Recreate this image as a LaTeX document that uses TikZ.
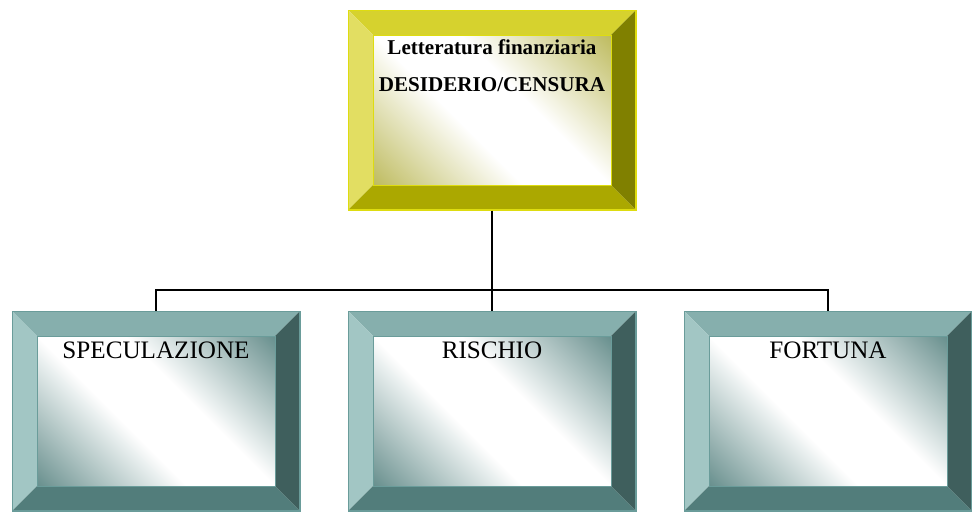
\documentclass[tikz,border=0pt]{standalone}
\usepackage{fontspec}
\setmainfont{Liberation Serif}
\usetikzlibrary{calc, positioning}
\definecolor{olvTop}{HTML}{D6D22E}
\definecolor{olvLeft}{HTML}{E2DE62}
\definecolor{olvRight}{HTML}{808000}
\definecolor{olvBottom}{HTML}{ABA800}
\definecolor{olvLine}{HTML}{DEDC10}
\definecolor{olvDark}{HTML}{B8B550}
\definecolor{teaTop}{HTML}{86AFAD}
\definecolor{teaLeft}{HTML}{A2C6C4}
\definecolor{teaRight}{HTML}{3F5F5D}
\definecolor{teaBottom}{HTML}{527D7B}
\definecolor{teaLine}{HTML}{6A9C9A}
\definecolor{teaDark}{HTML}{5A8583}
\pgfdeclareverticalshading{olvShade}{100bp}{color(0bp)=(olvDark); color(12bp)=(olvDark); color(42bp)=(white); color(58bp)=(white); color(88bp)=(olvDark); color(100bp)=(olvDark)}
\pgfdeclareverticalshading{teaShade}{100bp}{color(0bp)=(teaDark); color(12bp)=(teaDark); color(42bp)=(white); color(58bp)=(white); color(88bp)=(teaDark); color(100bp)=(teaDark)}
\tikzset{
    bevelbox/.style={draw=#1Line, line width=0.6pt, minimum width=5.76cm, minimum height=4cm, inner sep=0pt,
        path picture={
            \coordinate (bnw) at (path picture bounding box.north west);
            \coordinate (bne) at (path picture bounding box.north east);
            \coordinate (bsw) at (path picture bounding box.south west);
            \coordinate (bse) at (path picture bounding box.south east);
            \fill[#1Top] (bnw) -- (bne) -- ([shift={(-0.5cm,-0.5cm)}]bne) -- ([shift={(0.5cm,-0.5cm)}]bnw) -- cycle;
            \fill[#1Left] (bnw) -- (bsw) -- ([shift={(0.5cm,0.5cm)}]bsw) -- ([shift={(0.5cm,-0.5cm)}]bnw) -- cycle;
            \fill[#1Right] (bne) -- (bse) -- ([shift={(-0.5cm,0.5cm)}]bse) -- ([shift={(-0.5cm,-0.5cm)}]bne) -- cycle;
            \fill[#1Bottom] (bsw) -- (bse) -- ([shift={(-0.5cm,0.5cm)}]bse) -- ([shift={(0.5cm,0.5cm)}]bsw) -- cycle;
            \shade[shading=#1Shade, shading angle=-45]
                ([shift={(0.5cm,0.5cm)}]bsw) rectangle ([shift={(-0.5cm,-0.5cm)}]bne);
            \draw[#1Line, line width=0.4pt] ([shift={(0.5cm,0.5cm)}]bsw) rectangle ([shift={(-0.5cm,-0.5cm)}]bne);
        }},
    boxlabel/.style={inner sep=0pt, font=\fontsize{14.3}{17}\selectfont},
    toplabel/.style={inner sep=0pt, align=center, font=\fontsize{12}{21}\selectfont\bfseries},
    wire/.style={line width=0.75pt, black}
}
\begin{document}
\begin{tikzpicture}[x=0.02cm, y=-0.02cm]
    \useasboundingbox (0,0) rectangle (972,512);
    % boxes
    \node[bevelbox=olv] (lit) at (492,110) {};
    \node[bevelbox=tea] (spec) at (156,411) {};
    \node[bevelbox=tea] (risc) at (492,411) {};
    \node[bevelbox=tea] (fort) at (828,411) {};
    \coordinate (bus) at (492,290);

    % labels
    \node[toplabel] (lit-t) at ([yshift=-1.13cm]lit.north) {Letteratura finanziaria\\DESIDERIO/CENSURA};
    \node[boxlabel] (spec-t) at ([yshift=-0.8cm]spec.north) {SPECULAZIONE};
    \node[boxlabel] (risc-t) at ([yshift=-0.8cm]risc.north) {RISCHIO};
    \node[boxlabel] (fort-t) at ([yshift=-0.8cm]fort.north) {FORTUNA};

    % connectors
    \draw[wire] (lit.south) -- (bus);
    \draw[wire] (spec.north) |- (bus) -| (fort.north);
    \draw[wire] (risc.north) -- (bus);
\end{tikzpicture}
\end{document}
